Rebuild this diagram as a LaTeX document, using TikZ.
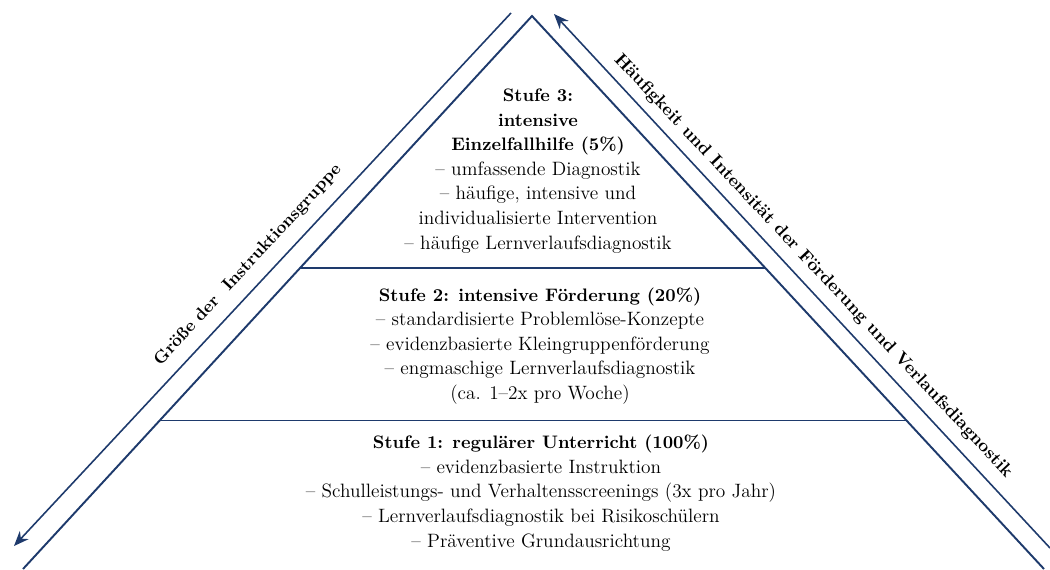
\documentclass[tikz,border=0pt]{standalone}
\usepackage{fontspec}
\usepackage{xcolor}
\usetikzlibrary{arrows.meta, calc}
\definecolor{pyrblue}{RGB}{30,58,108}
\newcommand{\lvltitle}[1]{{\fontsize{10.3}{14}\selectfont\bfseries #1}}

\begin{document}
\begin{tikzpicture}[
    x=0.02cm, y=-0.02cm,
    edge/.style={draw=pyrblue, line width=1.1pt},
    axis/.style={draw=pyrblue, line width=0.9pt, -{Stealth[length=3mm, width=2.4mm]}},
    divider/.style={draw=pyrblue, line width=0.6pt},
    level/.style={align=center, font=\fontsize{11}{14}\selectfont},
    sidelabel/.style={font=\fontsize{10.1}{13}\selectfont\bfseries}
]
\useasboundingbox (0,0) rectangle (1050,569);

% Pyramid corners
\coordinate (apex) at (532,16);
\coordinate (bl) at (23,569);
\coordinate (br) at (1044,569);

% Level borders on the sides
\coordinate (l1) at ($(apex)!0.4557!(bl)$);
\coordinate (r1) at ($(apex)!0.4557!(br)$);
\coordinate (l2) at ($(apex)!0.7306!(bl)$);
\coordinate (r2) at ($(apex)!0.7306!(br)$);

% Axis ends
\coordinate (lstart) at (511,13);
\coordinate (lend) at (14,546);
\coordinate (rstart) at (1050,548);
\coordinate (rend) at (554,14);

% Pyramid
\draw[edge] (bl) -- (apex) -- (br);
\draw[divider] (l1) -- (r1);
\draw[divider] (l2) -- (r2);

% Axes
\draw[axis] (lstart) -- (lend);
\draw[axis] (rstart) -- (rend);

% Levels
\node[level] (stufe3) at (538,171) {\lvltitle{Stufe 3:}\\ \lvltitle{intensive}\\ \lvltitle{Einzelfallhilfe (5\%)}\\ – umfassende Diagnostik\\ – häufige, intensive und\\ individualisierte Intervention\\ – häufige Lernverlaufsdiagnostik};
\node[level] (stufe2) at (540,346) {\lvltitle{Stufe 2: intensive Förderung (20\%)}\\ – standardisierte Problemlöse-Konzepte\\ – evidenzbasierte Kleingruppenförderung\\ – engmaschige Lernverlaufsdiagnostik\\ (ca. 1–2x pro Woche)};
\node[level] (stufe1) at (541,493) {\lvltitle{Stufe 1: regulärer Unterricht (100\%)}\\ – evidenzbasierte Instruktion\\ – Schulleistungs- und Verhaltensscreenings (3x pro Jahr)\\ – Lernverlaufsdiagnostik bei Risikoschülern\\ – Präventive Grundausrichtung};

% Side labels
\node[sidelabel, font=\fontsize{9.8}{13}\selectfont\bfseries, rotate=47.3] (groupsize) at (248,265) {Größe der\ \ Instruktionsgruppe};
\node[sidelabel, rotate=-46.8] (intensity) at (813,266) {Häufigkeit und Intensität der Förderung und Verlaufsdiagnostik};

\end{tikzpicture}
\end{document}
